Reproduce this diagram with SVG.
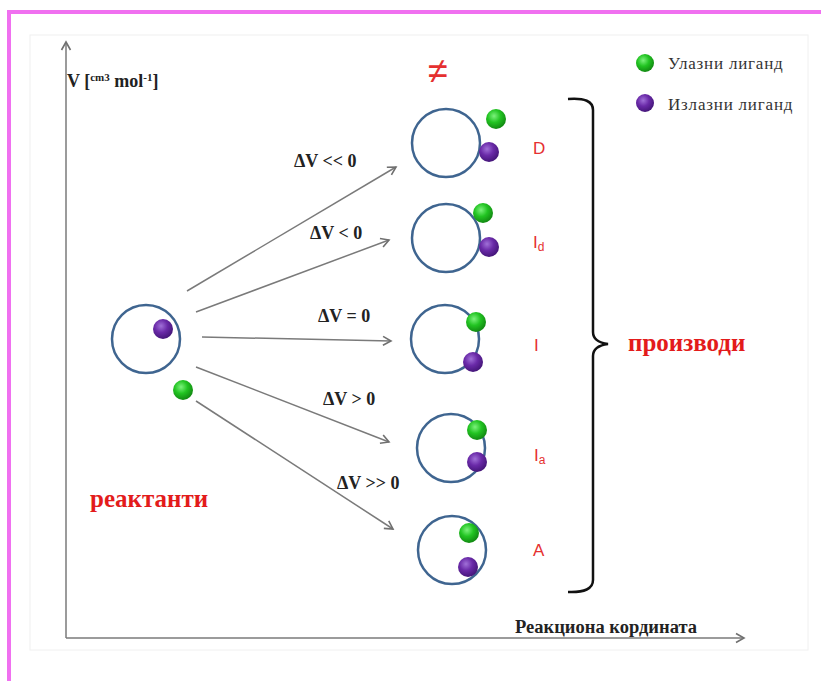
<svg xmlns="http://www.w3.org/2000/svg" width="821" height="681" viewBox="0 0 821 681">
<defs>
<radialGradient id="gG" cx="0.4" cy="0.35" r="0.65">
<stop offset="0" stop-color="#7cf27c"/><stop offset="0.5" stop-color="#22c422"/><stop offset="1" stop-color="#128a12"/>
</radialGradient>
<radialGradient id="gP" cx="0.4" cy="0.35" r="0.65">
<stop offset="0" stop-color="#a070d8"/><stop offset="0.5" stop-color="#6a2aa8"/><stop offset="1" stop-color="#45167a"/>
</radialGradient>
<marker id="ah" markerWidth="12" markerHeight="12" refX="10" refY="6" orient="auto" markerUnits="userSpaceOnUse">
<path d="M2,1.5 L10,6 L2,10.5" fill="none" stroke="#707070" stroke-width="1.6"/>
</marker>
</defs>
<style>
.ring{fill:none;stroke:#3f6590;stroke-width:2.5}
.g{fill:url(#gG)}
.p{fill:url(#gP)}
.conn{stroke:#7a7a7a;stroke-width:1.5;fill:none}
.dv{font-family:"Liberation Serif",serif;font-weight:bold;font-size:18px;fill:#222}
.lab{font-family:"Liberation Sans",sans-serif;font-size:17px;fill:#e53030}
.leg{font-family:"Liberation Serif",serif;font-size:17px;letter-spacing:0.8px;fill:#333}
.red{font-family:"Liberation Serif",serif;font-weight:bold;font-size:25px;fill:#e31b1b}
.ax{font-family:"Liberation Serif",serif;font-weight:bold;fill:#222}
</style>
<rect x="0" y="0" width="821" height="681" fill="#ffffff"/>
<rect x="9" y="12" width="830" height="700" fill="none" stroke="#f070f0" stroke-width="4"/>
<rect x="30" y="35" width="778" height="615" fill="none" stroke="#f0f0f0" stroke-width="1"/>

<g id="axes">
<line x1="66" y1="638" x2="66" y2="42" class="conn" marker-end="url(#ah)"/>
<line x1="66" y1="638" x2="744" y2="638" class="conn" marker-end="url(#ah)"/>
<text x="67" y="87" class="ax" font-size="18">V [<tspan font-size="11" dy="-6">cm3</tspan><tspan dy="6"> mol</tspan><tspan font-size="11" dy="-6">-1</tspan><tspan dy="6">]</tspan></text>
<text x="515" y="633" class="ax" font-size="18.5">Реакциона кордината</text>
</g>

<text x="428" y="83" font-family="Liberation Sans,sans-serif" font-size="36" fill="#e53030">≠</text>

<g id="legend">
<circle cx="645" cy="63" r="9" class="g"/>
<text x="668" y="69" class="leg">Улазни  лиганд</text>
<circle cx="645" cy="103" r="9" class="p"/>
<text x="668" y="110" class="leg">Излазни  лиганд</text>
</g>

<g id="reactant">
<circle cx="146" cy="339" r="34" class="ring"/>
<circle cx="163" cy="329" r="10" class="p"/>
<circle cx="183" cy="390" r="10" class="g"/>
<text x="90" y="507" class="red">реактанти</text>
</g>

<g id="connectors">
<line x1="187" y1="291" x2="396" y2="167" class="conn" marker-end="url(#ah)"/>
<line x1="196" y1="312" x2="389" y2="240" class="conn" marker-end="url(#ah)"/>
<line x1="202" y1="337" x2="391" y2="341" class="conn" marker-end="url(#ah)"/>
<line x1="196" y1="367" x2="389" y2="442" class="conn" marker-end="url(#ah)"/>
<line x1="196" y1="401" x2="393" y2="529" class="conn" marker-end="url(#ah)"/>
<text x="294" y="167" class="dv">ΔV &lt;&lt; 0</text>
<text x="310" y="239" class="dv">ΔV &lt; 0</text>
<text x="318" y="322" class="dv">ΔV = 0</text>
<text x="323" y="405" class="dv">ΔV &gt; 0</text>
<text x="337" y="489" class="dv">ΔV &gt;&gt; 0</text>
</g>

<g id="pD">
<circle cx="446" cy="143" r="34" class="ring"/>
<circle cx="496" cy="119" r="10" class="g"/>
<circle cx="489" cy="152" r="10" class="p"/>
<text x="533" y="154" class="lab">D</text>
</g>
<g id="pId">
<circle cx="446" cy="238" r="34" class="ring"/>
<circle cx="483" cy="213" r="10" class="g"/>
<circle cx="489" cy="247" r="10" class="p"/>
<text x="533" y="248" class="lab">I<tspan font-size="12" dy="3">d</tspan></text>
</g>
<g id="pI">
<circle cx="445" cy="339" r="34" class="ring"/>
<circle cx="476" cy="322" r="10" class="g"/>
<circle cx="473" cy="362" r="10" class="p"/>
<text x="534" y="351" class="lab">I</text>
</g>
<g id="pIa">
<circle cx="451" cy="448" r="34" class="ring"/>
<circle cx="477" cy="430" r="10" class="g"/>
<circle cx="477" cy="462" r="10" class="p"/>
<text x="534" y="461" class="lab">I<tspan font-size="12" dy="3">a</tspan></text>
</g>
<g id="pA">
<circle cx="452" cy="550" r="34" class="ring"/>
<circle cx="469" cy="533" r="10" class="g"/>
<circle cx="468" cy="567" r="10" class="p"/>
<text x="533" y="556" class="lab">A</text>
</g>

<g id="products">
<path d="M568,99 Q593,97 593,110 L593,332 Q593,342 608,344 Q593,346 593,356 L593,580 Q593,593 568,592" fill="none" stroke="#111" stroke-width="2.5"/>
<text x="628" y="351" class="red">производи</text>
</g>
</svg>
